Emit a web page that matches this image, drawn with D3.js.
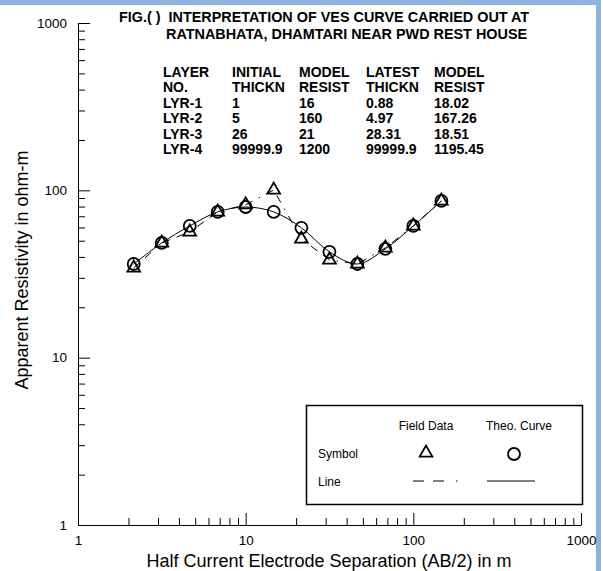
<!DOCTYPE html>
<html>
<head>
<meta charset="utf-8">
<script src="https://cdn.jsdelivr.net/npm/d3@7"></script>
<style>
  body { margin: 0; background: #fff; }
  svg { display: block; font-family: Arial, "Liberation Sans", sans-serif; }
</style>
</head>
<body>
<div id="chart"></div>
<script>
// AB/2 spacings (m), six per decade
var spacing = [2.15, 3.16, 4.64, 6.81, 10, 14.7, 21.5, 31.6, 46.4, 68.1, 100, 147];
// field data apparent resistivity (ohm-m)
var fieldRho = [34.4, 48.5, 56.4, 74.3, 82, 100.5, 51.2, 38.4, 36.3, 45.3, 61.3, 86.4];
// theoretical curve apparent resistivity (ohm-m)
var theoRho = [36.3, 48.5, 61.3, 74.3, 79.5, 74.3, 59.7, 42.9, 36.3, 44.7, 61.3, 86.4];

var tableHeader1 = ['LAYER', 'INITIAL', 'MODEL', 'LATEST', 'MODEL'];
var tableHeader2 = ['NO.', 'THICKN', 'RESIST', 'THICKN', 'RESIST'];
var layerNames = ['LYR-1', 'LYR-2', 'LYR-3', 'LYR-4'];
var initThick = ['1', '5', '26', '99999.9'];
var initResist = ['16', '160', '21', '1200'];
var latestThick = ['0.88', '4.97', '28.31', '99999.9'];
var latestResist = ['18.02', '167.26', '18.51', '1195.45'];

var majorTicks = [1, 10, 100, 1000];
var minorTicks = [];
[1, 10, 100].forEach(function(d) {
	for (var k = 2; k <= 9; k++) minorTicks.push(d * k);
});

var w = 603,
	h = 571;

var svg = d3.select('#chart')
	.append('svg')
	.attr('width', w)
	.attr('height', h);

// frame edges
svg.append('rect').attr('x', 0).attr('y', 0).attr('width', 601).attr('height', 5).attr('fill', '#8db3e2');
svg.append('rect').attr('x', 596).attr('y', 0).attr('width', 5).attr('height', h).attr('fill', '#8db3e2');

var xScale = d3.scaleLog()
	.domain([1, 1000])
	.range([78, 581]);
var yScale = d3.scaleLog()
	.domain([1, 1000])
	.range([525, 23]);

var fmt = function(d) { return String(d); };

// y axis
var yMajor = d3.axisLeft(yScale)
	.tickValues(majorTicks)
	.tickFormat(fmt)
	.tickSizeInner(-12)
	.tickSizeOuter(0)
	.tickPadding(11);
var gy = svg.append('g')
	.attr('transform', 'translate(78,0)')
	.call(yMajor);
gy.selectAll('text').attr('font-size', 13.5).attr('fill', '#000').attr('font-family', 'Arial, "Liberation Sans", sans-serif');

var yMinor = d3.axisLeft(yScale)
	.tickValues(minorTicks)
	.tickFormat('')
	.tickSizeInner(-7)
	.tickSizeOuter(0);
svg.append('g')
	.attr('transform', 'translate(78,0)')
	.call(yMinor)
	.select('.domain').remove();

// x axis
var xMajor = d3.axisBottom(xScale)
	.tickValues(majorTicks)
	.tickFormat(fmt)
	.tickSizeInner(-12)
	.tickSizeOuter(0)
	.tickPadding(10);
var gx = svg.append('g')
	.attr('transform', 'translate(0,525)')
	.call(xMajor);
gx.selectAll('text').attr('font-size', 13.5).attr('fill', '#000').attr('font-family', 'Arial, "Liberation Sans", sans-serif');

var xMinor = d3.axisBottom(xScale)
	.tickValues(minorTicks)
	.tickFormat('')
	.tickSizeInner(-7)
	.tickSizeOuter(0);
svg.append('g')
	.attr('transform', 'translate(0,525)')
	.call(xMinor)
	.select('.domain').remove();

svg.selectAll('.domain, .tick line').attr('stroke', '#000').attr('stroke-width', 1);

// axis titles
svg.append('text')
	.attr('x', 329)
	.attr('y', 567)
	.attr('text-anchor', 'middle')
	.attr('font-size', 18)
	.text('Half Current Electrode Separation (AB/2) in m');

svg.append('text')
	.attr('transform', 'translate(28,270) rotate(-90)')
	.attr('text-anchor', 'middle')
	.attr('font-size', 18)
	.text('Apparent Resistivity in ohm-m');

// title
svg.append('text')
	.attr('x', 119)
	.attr('y', 22)
	.attr('font-size', 14.4)
	.attr('font-weight', 'bold')
	.style('white-space', 'pre')
	.text('FIG.( )  INTERPRETATION OF VES CURVE CARRIED OUT AT');
svg.append('text')
	.attr('x', 166)
	.attr('y', 39)
	.attr('font-size', 14.4)
	.attr('font-weight', 'bold')
	.text('RATNABHATA, DHAMTARI NEAR PWD REST HOUSE');

// layer table
var colX = [163, 232, 299, 366, 434];
var rows = [tableHeader1, tableHeader2];
for (var i = 0; i < layerNames.length; i++) {
	rows.push([layerNames[i], initThick[i], initResist[i], latestThick[i], latestResist[i]]);
}
var table = svg.append('g')
	.attr('font-size', 14)
	.attr('font-weight', 'bold');
rows.forEach(function(r, ri) {
	r.forEach(function(cell, ci) {
		table.append('text')
			.attr('x', colX[ci])
			.attr('y', 77 + ri * 15.4)
			.text(cell);
	});
});

// data series
var field = spacing.map(function(s, i) { return { x: s, y: fieldRho[i] }; });
var theo = spacing.map(function(s, i) { return { x: s, y: theoRho[i] }; });

var fieldLine = d3.line()
	.x(function(d) { return xScale(d.x); })
	.y(function(d) { return yScale(d.y); });
var theoLine = d3.line()
	.x(function(d) { return xScale(d.x); })
	.y(function(d) { return yScale(d.y); })
	.curve(d3.curveCatmullRom.alpha(0.5));

var dashPattern = '8,7,8,7,1.5,7';

svg.append('path')
	.datum(field)
	.attr('d', fieldLine)
	.attr('fill', 'none')
	.attr('stroke', '#000')
	.attr('stroke-width', 1)
	.attr('stroke-dasharray', dashPattern);

svg.append('path')
	.datum(theo)
	.attr('d', theoLine)
	.attr('fill', 'none')
	.attr('stroke', '#000')
	.attr('stroke-width', 1);

var tri = d3.symbol().type(d3.symbolTriangle).size(70);

svg.selectAll('.tri')
	.data(field)
	.enter()
	.append('path')
	.attr('class', 'tri')
	.attr('d', tri)
	.attr('transform', function(d) {
		return 'translate(' + xScale(d.x) + ',' + yScale(d.y) + ')';
	})
	.attr('fill', 'none')
	.attr('stroke', '#000')
	.attr('stroke-width', 1.8);

svg.selectAll('.circ')
	.data(theo)
	.enter()
	.append('circle')
	.attr('class', 'circ')
	.attr('cx', function(d) { return xScale(d.x); })
	.attr('cy', function(d) { return yScale(d.y); })
	.attr('r', 6)
	.attr('fill', 'none')
	.attr('stroke', '#000')
	.attr('stroke-width', 1.8);

// legend
var lg = svg.append('g').attr('font-size', 12);
lg.append('rect')
	.attr('x', 306.5)
	.attr('y', 405.5)
	.attr('width', 276)
	.attr('height', 99)
	.attr('fill', '#fff')
	.attr('stroke', '#000')
	.attr('stroke-width', 1.5);
lg.append('text').attr('x', 426).attr('y', 430).attr('text-anchor', 'middle').text('Field Data');
lg.append('text').attr('x', 519).attr('y', 430).attr('text-anchor', 'middle').text('Theo. Curve');
lg.append('text').attr('x', 318).attr('y', 458).text('Symbol');
lg.append('text').attr('x', 318).attr('y', 486).text('Line');
lg.append('path')
	.attr('d', tri)
	.attr('transform', 'translate(426,453)')
	.attr('fill', 'none')
	.attr('stroke', '#000')
	.attr('stroke-width', 1.8);
lg.append('circle')
	.attr('cx', 514)
	.attr('cy', 454)
	.attr('r', 6)
	.attr('fill', 'none')
	.attr('stroke', '#000')
	.attr('stroke-width', 1.8);
lg.append('line')
	.attr('x1', 413).attr('x2', 461)
	.attr('y1', 481).attr('y2', 481)
	.attr('stroke', '#000')
	.attr('stroke-width', 1)
	.attr('stroke-dasharray', '11,9,11,12,1.5,9');
lg.append('line')
	.attr('x1', 487).attr('x2', 535)
	.attr('y1', 481).attr('y2', 481)
	.attr('stroke', '#000')
	.attr('stroke-width', 1);
</script>
</body>
</html>
